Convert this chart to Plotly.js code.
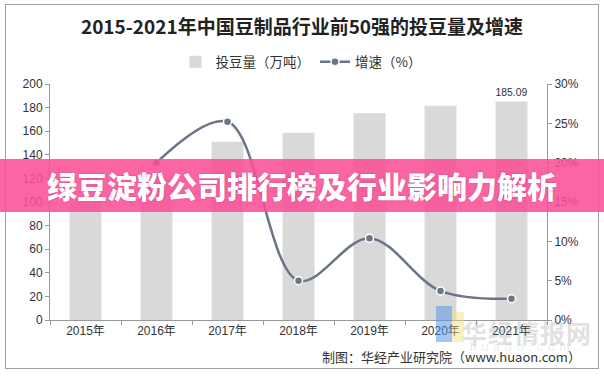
<!DOCTYPE html>
<html><head><meta charset="utf-8">
<script src="https://cdn.plot.ly/plotly-3.0.1.min.js"></script>
<style>
html,body{margin:0;padding:0;background:#fff;}
#wrap{position:relative;width:604px;height:378px;overflow:hidden;}
#chart{position:absolute;left:0;top:0;width:604px;height:378px;}
#frame{position:absolute;left:5px;top:4px;width:592px;height:363px;border:1px solid #a0a0a0;pointer-events:none;}
#wm{position:absolute;left:462px;top:314px;font-family:"Noto Sans CJK SC";font-weight:700;font-size:25px;color:rgba(150,150,150,0.3);letter-spacing:1px;}
#wm2{position:absolute;left:470px;top:340px;font-family:"Liberation Sans";font-size:12px;color:rgba(170,170,170,0.25);letter-spacing:5px;}
#logo1{position:absolute;left:436px;top:306px;width:16px;height:36px;background:rgba(90,150,230,0.55);}
#logo2{position:absolute;left:452px;top:312px;width:12px;height:30px;background:rgba(245,225,120,0.45);}
#foot{position:absolute;left:322px;top:347px;font-family:"Noto Sans CJK SC","Liberation Sans";font-size:13px;color:#333;white-space:nowrap;}
#banner{position:absolute;left:0;top:159px;width:604px;height:53px;background:rgba(252,78,150,0.87);}
#btext{position:absolute;left:0;top:159px;width:604px;height:53px;line-height:53px;text-align:center;font-family:"Noto Sans CJK SC";font-weight:900;font-size:30px;color:#fff;letter-spacing:0px;text-shadow:0 0 2px rgba(150,20,80,0.4);}
</style></head>
<body><div id="wrap">
<div id="chart"></div>
<div id="logo1"></div><div id="logo2"></div>
<div id="wm">华经情报网</div>
<div id="wm2">huaon.com</div>
<div id="foot">制图：华经产业研究院（www.huaon.com）</div>
<div id="frame"></div>
<div id="banner"></div>
<div id="btext">绿豆淀粉公司排行榜及行业影响力解析</div>
</div>
<script>
const years = ["2015年","2016年","2017年","2018年","2019年","2020年","2021年"];
const volume = [100.5, 120.6, 151.0, 158.7, 175.2, 181.6, 185.09];
const growthYears = ["2016年","2017年","2018年","2019年","2020年","2021年"];
const growth = [20.0, 25.2, 5.0, 10.4, 3.7, 2.7];
const volumeLabels = ["","","","","","","185.09"];

const traces = [
  {type:"bar", name:"投豆量（万吨）", x:years, y:volume, text:volumeLabels,
   textposition:"outside", cliponaxis:false,
   textfont:{family:"Liberation Sans", size:12, color:"#333"},
   marker:{color:"#d9d9d9"}, width:0.45, hoverinfo:"skip"},
  {type:"scatter", mode:"lines+markers", name:"增速（%）", x:growthYears, y:growth, yaxis:"y2",
   line:{color:"#6b7588", width:2.5, shape:"spline", smoothing:1},
   marker:{color:"#6b7588", size:8, line:{color:"#fff", width:1.5}}, hoverinfo:"skip"}
];

const axisFont = {family:"Liberation Sans", size:12, color:"#333"};
const layout = {
  width:604, height:378,
  margin:{l:50, r:57, t:84, b:58},
  paper_bgcolor:"#fff", plot_bgcolor:"#fff",
  showlegend:true,
  title:{text:"2015-2021年中国豆制品行业前50强的投豆量及增速",
    font:{family:"Noto Sans CJK SC", size:19, color:"#222", weight:700},
    x:0.5, xref:"container", xanchor:"center", y:0.928, yref:"container", yanchor:"middle"},
  legend:{orientation:"h", x:0.505, xanchor:"center", y:1.093, yanchor:"middle",
    font:{family:"Noto Sans CJK SC", size:13.5, color:"#333"}, itemwidth:30, traceorder:"normal"},
  xaxis:{type:"category", showline:true, linecolor:"#999", linewidth:1,
    ticks:"outside", ticklen:4, tickcolor:"#999", tickson:"boundaries",
    tickfont:{family:"Liberation Sans, Noto Sans CJK SC", size:12, color:"#333"},
    showgrid:false, zeroline:false},
  yaxis:{range:[0,200], dtick:20, showline:true, linecolor:"#999", linewidth:1,
    ticks:"outside", ticklen:4, tickcolor:"#999", tickfont:axisFont,
    showgrid:false, zeroline:false},
  yaxis2:{range:[0,30], dtick:5, ticksuffix:"%", overlaying:"y", side:"right",
    showline:true, linecolor:"#999", linewidth:1, ticks:"outside", ticklen:4, tickcolor:"#999",
    tickfont:axisFont, showgrid:false, zeroline:false}
};
Plotly.newPlot("chart", traces, layout, {displayModeBar:false, staticPlot:true});
</script>
</body></html>
